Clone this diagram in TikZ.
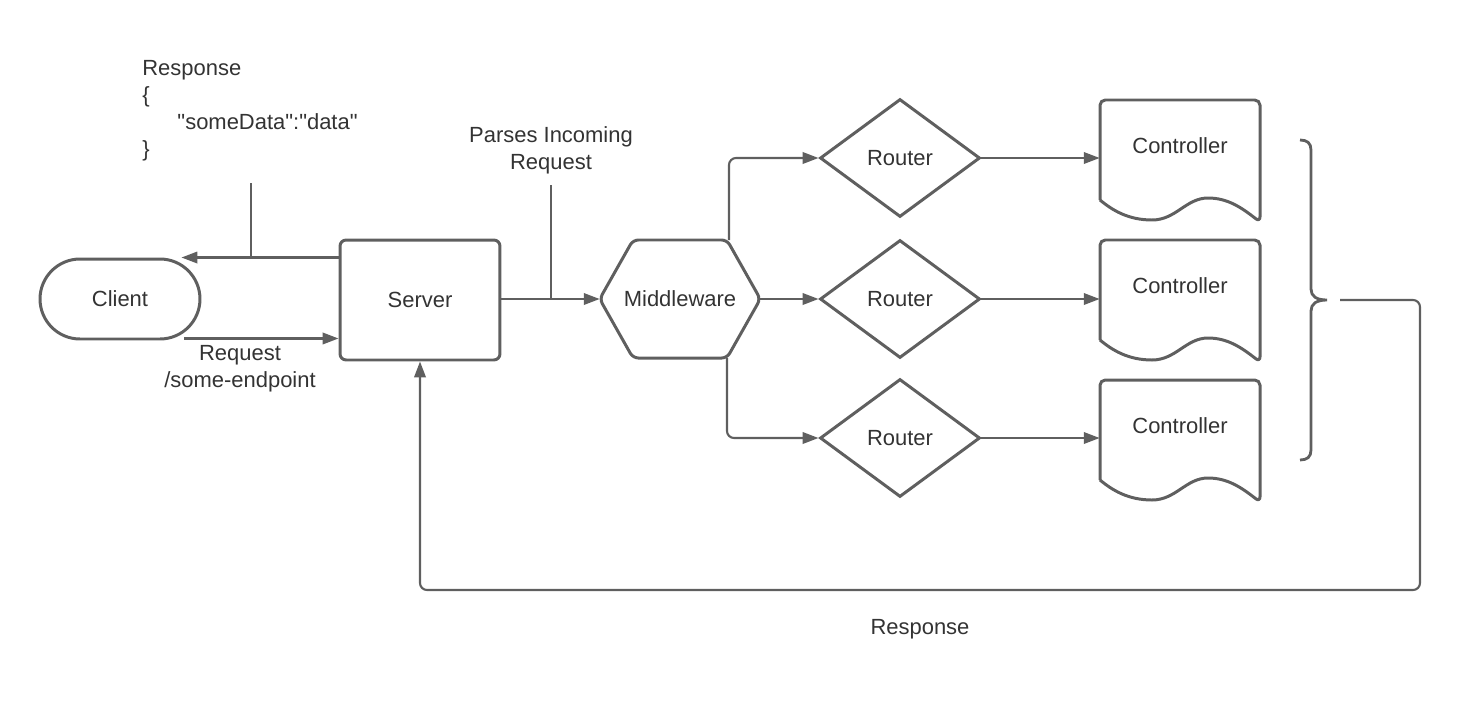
\documentclass[tikz,border=0pt]{standalone}
\usepackage{fontspec}
\setmainfont{Liberation Sans}[Ligatures=TeXOff]
\usetikzlibrary{arrows.meta,shapes.geometric}
\definecolor{lc}{RGB}{95,95,95}
\definecolor{tc}{RGB}{51,51,51}
\begin{document}
\begin{tikzpicture}[x=0.02cm,y=-0.02cm,
  every node/.style={text=tc,font=\fontsize{12.5}{15.3}\selectfont},
  shp/.style={draw=lc,line width=1.7pt},
  conn/.style={draw=lc,line width=1.2pt,-{Triangle[length=9pt,width=6.5pt]}},
  plain/.style={draw=lc,line width=1.2pt},
  txt/.style={inner sep=0pt,align=center}]
\useasboundingbox (0,0) rectangle (1460,700);

% nodes
\node[shp,rounded corners=0.8cm,minimum width=3.2cm,minimum height=1.6cm,inner sep=0pt] (client) at (120,299) {Client};
\node[shp,rounded corners=3.5pt,minimum width=3.2cm,minimum height=2.4cm,inner sep=0pt] (server) at (420,300) {Server};
\node[minimum width=3.2cm,minimum height=2.36cm,inner sep=0pt] (mw) at (680,299) {Middleware};
\draw[shp,rounded corners=3pt] (mw.west) -- (633,240) -- (727,240) -- (mw.east) -- (727,358) -- (633,358) -- cycle;

\foreach \i/\y in {1/158,2/299,3/438}{
  \node[shp,diamond,minimum width=3.2cm,minimum height=2.36cm,inner sep=0pt] (r\i) at (900,\y) {Router};
}
\foreach \i/\y in {1/100,2/240,3/380}{
  \node[minimum width=3.2cm,inner sep=0pt] (c\i) at (1180,\y+46) {Controller};
  \draw[shp] (1100,\y+100) [rounded corners=3pt] -- (1100,\y) -- (1260,\y) -- (1260,\y+122) [sharp corners]
     .. controls (1242,\y+108) and (1228,\y+98) .. (1208,\y+98)
     .. controls (1186,\y+98) and (1176,\y+120) .. (1152,\y+120)
     .. controls (1128,\y+120) and (1112,\y+110) .. (1100,\y+100);
}

% brace
\draw[shp,line width=1.6pt] (1300,140) .. controls (1307,140) and (1311,143) .. (1311,150) -- (1311,289)
   .. controls (1311,296) and (1316,300) .. (1327,300)
   .. controls (1316,300) and (1311,304) .. (1311,311) -- (1311,450)
   .. controls (1311,457) and (1307,460) .. (1300,460);

% labels
\node[inner sep=0pt,align=left,anchor=north west] (resptxt) at (142,60)
  {Response\\\{\\\hspace*{20pt}"someData":"data"\\\}};
\node[txt] (reqtxt) at (240,369) {Request\\/some-endpoint};
\node[txt] (parsetxt) at (551,150) {Parses Incoming\\Request};
\node[txt] (resp2) at (920,629) {Response};

% connectors
\draw[conn] (server.west |- client.north) -- ([xshift=-0.4cm]client.north east);
\draw[conn] ([xshift=-0.34cm,yshift=0.04cm]client.south east) -- ([yshift=0.04cm]server.west |- client.south);
\coordinate (rt) at (251,183);
\draw[plain] (rt) -- (rt |- client.north);

\draw[conn] (server.east |- mw.west) -- (mw.west);
\coordinate (pt) at (551,185);
\draw[plain] (pt) -- (pt |- mw.west);

\coordinate (mwt) at (729,240);
\coordinate (mwb) at (727,358);
\draw[conn,rounded corners=4pt] (mwt) -- (mwt |- r1.west) -- (r1.west);
\draw[conn] (mw.east) -- (r2.west);
\draw[conn,rounded corners=4pt] (mwb) -- (mwb |- r3.west) -- (r3.west);

\foreach \i in {1,2,3}{
  \draw[conn] (r\i.east) -- (r\i.east -| c\i.west);
}

\coordinate (bo) at (1340,300);
\draw[conn,rounded corners=4pt] (bo) -- (1420,300) -- (1420,590) -- (server.south |- 1420,590) -- (server.south);
\end{tikzpicture}
\end{document}
